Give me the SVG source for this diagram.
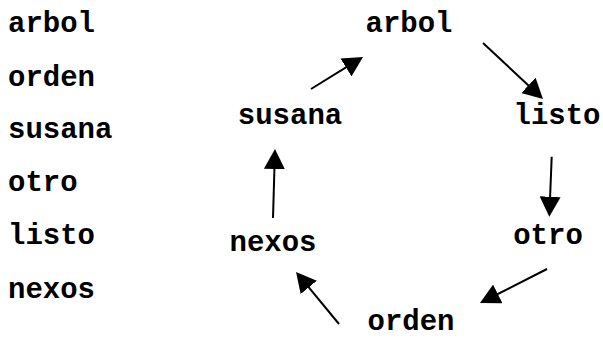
<svg xmlns="http://www.w3.org/2000/svg" width="603" height="340" viewBox="0 0 603 340">
<style>
text{font-family:"Liberation Mono","Courier New",monospace;font-weight:bold;font-size:29px;fill:#000}
.n text{text-anchor:middle}
.c line{stroke:#000;stroke-width:2;marker-end:url(#ah)}
</style>
<defs>
<marker id="ah" markerUnits="userSpaceOnUse" markerWidth="20" markerHeight="21" refX="10" refY="10.5" orient="auto" viewBox="0 0 20 21">
<path d="M0,0 L20,10.5 L0,21 z" fill="#000"/>
</marker>
</defs>
<g id="lista">
<text x="8" y="32">arbol</text>
<text x="8" y="86">orden</text>
<text x="8" y="138">susana</text>
<text x="8" y="191">otro</text>
<text x="8" y="244">listo</text>
<text x="8" y="298">nexos</text>
</g>
<g class="n">
<g id="n-arbol"><text x="409" y="32">arbol</text></g>
<g id="n-listo"><text x="557" y="124">listo</text></g>
<g id="n-otro"><text x="548" y="244">otro</text></g>
<g id="n-orden"><text x="411" y="330">orden</text></g>
<g id="n-nexos"><text x="273" y="251">nexos</text></g>
<g id="n-susana"><text x="290" y="124">susana</text></g>
</g>
<g class="c" id="connectors">
<line x1="311" y1="89" x2="354.5" y2="62.2"/>
<line x1="483" y1="43" x2="535.7" y2="92.2"/>
<line x1="551.7" y1="156.7" x2="549.7" y2="206.7"/>
<line x1="547" y1="269" x2="488.9" y2="298.5"/>
<line x1="339" y1="324" x2="302.4" y2="279.7"/>
<line x1="273" y1="218" x2="274.7" y2="159"/>
</g>
</svg>
